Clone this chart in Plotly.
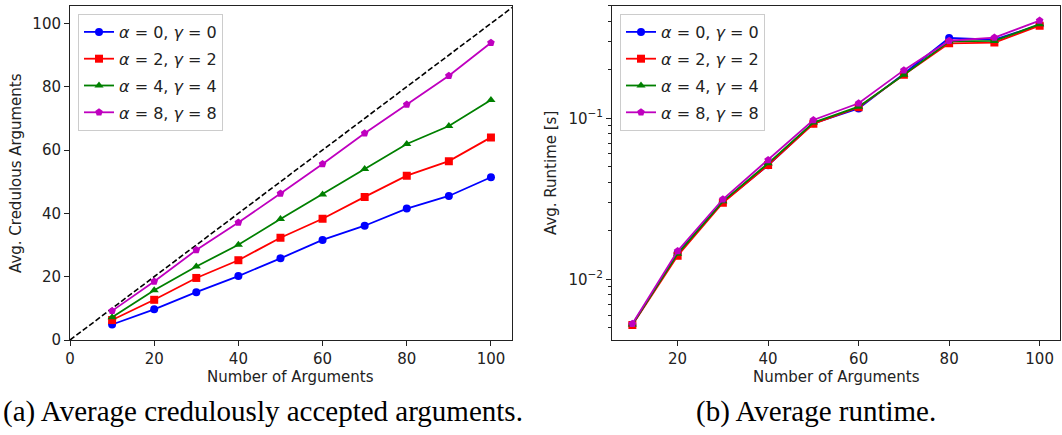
import plotly.graph_objects as go

# ---------------- data ----------------
num_args = [10, 20, 30, 40, 50, 60, 70, 80, 90, 100]
series_names = ["<i>α</i> = 0, <i>γ</i> = 0", "<i>α</i> = 2, <i>γ</i> = 2",
                "<i>α</i> = 4, <i>γ</i> = 4", "<i>α</i> = 8, <i>γ</i> = 8"]

cred_a0 = [4.9, 9.7, 15.1, 20.2, 25.8, 31.6, 36.1, 41.5, 45.5, 51.4]
cred_a2 = [6.3, 12.7, 19.6, 25.2, 32.3, 38.3, 45.2, 51.9, 56.5, 64.0]
cred_a4 = [7.2, 15.7, 23.2, 30.1, 38.2, 46.0, 54.0, 61.9, 67.6, 75.8]
cred_a8 = [9.2, 18.5, 28.4, 37.1, 46.3, 55.6, 65.3, 74.4, 83.5, 93.9]

rt_a0 = [0.00522, 0.0145, 0.0302, 0.0510, 0.0930, 0.115, 0.189, 0.315, 0.308, 0.380]
rt_a2 = [0.00520, 0.0140, 0.0299, 0.0512, 0.0923, 0.117, 0.186, 0.292, 0.295, 0.376]
rt_a4 = [0.00524, 0.0144, 0.0305, 0.0525, 0.0940, 0.118, 0.186, 0.300, 0.302, 0.384]
rt_a8 = [0.00530, 0.0150, 0.0314, 0.0550, 0.0975, 0.124, 0.199, 0.303, 0.317, 0.404]

diag_x = [0, 105]
diag_y = [0, 105]

left_xticks = [0, 20, 40, 60, 80, 100]
left_yticks = [0, 20, 40, 60, 80, 100]
right_xticks = [20, 40, 60, 80, 100]
right_yticks = [0.01, 0.1]
right_yticktext = ["10<sup>−2</sup>", "10<sup>−1</sup>"]
right_minor = [0.005, 0.006, 0.007, 0.008, 0.009, 0.02, 0.03, 0.04, 0.05,
               0.06, 0.07, 0.08, 0.09, 0.2, 0.3, 0.4, 0.5]

x_title = "Number of Arguments"
y_title_left = "Avg. Credulous Arguments"
y_title_right = "Avg. Runtime [s]"
caption_a = "(a) Average credulously accepted arguments."
caption_b = "(b) Average runtime."

colors = ["#0000ff", "#ff0000", "#008000", "#bf00bf"]
symbols = ["circle", "square", "triangle-up", "pentagon"]

W, H = 1062, 435
FONT = "DejaVu Sans"

fig = go.Figure()

fig.add_trace(go.Scatter(x=diag_x, y=diag_y, mode="lines", showlegend=False,
                         line=dict(color="black", width=1.6, dash="5.5px,2.5px"),
                         xaxis="x", yaxis="y", hoverinfo="skip"))

for i, (name, ys, c, s) in enumerate(zip(series_names, [cred_a0, cred_a2, cred_a4, cred_a8], colors, symbols)):
    fig.add_trace(go.Scatter(x=num_args, y=ys, name=name, mode="lines+markers",
                             line=dict(color=c, width=1.8),
                             marker=dict(color=c, symbol=s, size=8),
                             legendgroup=f"a{i}",
                             xaxis="x", yaxis="y", legend="legend"))

for i, (name, ys, c, s) in enumerate(zip(series_names, [rt_a0, rt_a2, rt_a4, rt_a8], colors, symbols)):
    fig.add_trace(go.Scatter(x=num_args, y=ys, name=name, mode="lines+markers",
                             line=dict(color=c, width=1.8),
                             marker=dict(color=c, symbol=s, size=8),
                             legendgroup=f"b{i}",
                             xaxis="x2", yaxis="y2", legend="legend2"))

top_px, bot_px = 5.7, 340
ydom = [(H - bot_px) / H, (H - top_px) / H]
xdom_l = [70 / W, 512 / W]
xdom_r = [612 / W, 1060 / W]

axis_common = dict(showline=True, linecolor="#222", linewidth=1, mirror=True,
                   ticks="outside", ticklen=5, tickwidth=1, tickcolor="#222",
                   showgrid=False, zeroline=False, automargin=False,
                   tickfont=dict(family=FONT, size=15, color="#222"))

legend_common = dict(yanchor="top", xanchor="left",
                     bgcolor="rgba(255,255,255,0.8)", bordercolor="#cccccc", borderwidth=1,
                     tracegroupgap=3,
                     font=dict(family=FONT, size=16, color="#222"))

title_font = dict(family=FONT, size=15, color="#222")
cap_font = dict(family="Liberation Serif", size=29, color="black")


def ann(text, xpx, ypx, font, angle=0):
    return dict(text=text, x=xpx / W, y=1 - ypx / H, xref="paper", yref="paper",
                showarrow=False, xanchor="center", yanchor="middle", textangle=angle, font=font)


fig.update_layout(
    width=W, height=H,
    margin=dict(l=0, r=0, t=0, b=0, autoexpand=False),
    paper_bgcolor="white", plot_bgcolor="white",
    xaxis=dict(domain=xdom_l, range=[0, 105], tickvals=left_xticks, anchor="y", **axis_common),
    yaxis=dict(domain=ydom, range=[0, 105.6], tickvals=left_yticks, anchor="x", **axis_common),
    xaxis2=dict(domain=xdom_r, range=[5.5, 104.5], tickvals=right_xticks, anchor="y2", **axis_common),
    yaxis2=dict(domain=ydom, type="log", range=[-2.377, -0.301], tickvals=right_yticks,
                ticktext=right_yticktext,
                minor=dict(tickvals=right_minor, ticks="outside", ticklen=3, tickcolor="#222"),
                anchor="x2", **axis_common),
    legend=dict(x=78 / W, y=1 - 14 / H, **legend_common),
    legend2=dict(x=620 / W, y=1 - 14 / H, **legend_common),
    annotations=[
        ann(x_title, 291, 377, title_font),
        ann(x_title, 836, 377, title_font),
        ann(y_title_left, 16, 173, title_font, -90),
        ann(y_title_right, 551, 173, title_font, -90),
        ann(caption_a, 263, 411, cap_font),
        ann(caption_b, 816, 411, cap_font),
    ],
)

fig.write_html("out.html")
